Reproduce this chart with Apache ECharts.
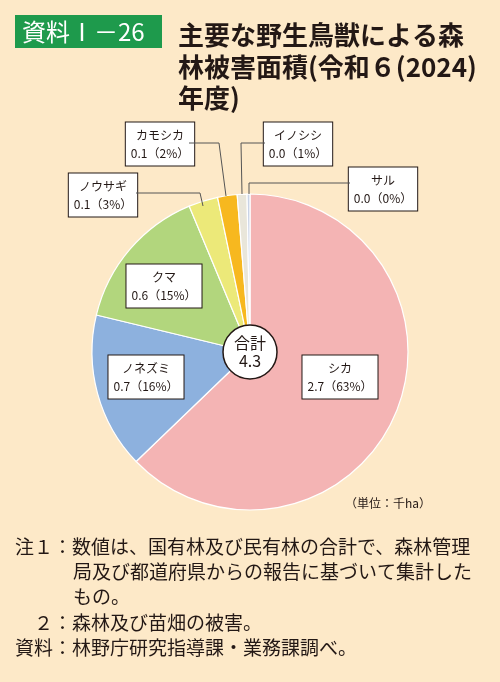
<!DOCTYPE html>
<html><head><meta charset="utf-8">
<script src="https://cdn.jsdelivr.net/npm/echarts@6/dist/echarts.min.js"></script>
<style>html,body{margin:0;padding:0;background:#fde9c8;}#c{width:500px;height:682px;}</style>
</head><body><div id="c"></div>
<script>
const categories = ['シカ','ノネズミ','クマ','ノウサギ','カモシカ','イノシシ','サル'];
const areas = ['2.7','0.7','0.6','0.1','0.1','0.0','0.0'];
const shares = [63,16,15,3,2,1,0.3];
const total = '4.3';
const colors = ['#f4b4b4','#8db1de','#b2d67d','#ece979','#f7b81f','#e9e6da','#c9d3e6'];
const labelPos = [[340,377],[146,377],[164,286],[103,195],[160,144],[298,144],[383,189]];
const F = '"Noto Sans CJK JP","Noto Sans",sans-serif';
const chart = echarts.init(document.getElementById('c'));
const line = pts => ({type:'polyline',shape:{points:pts},style:{stroke:'#555',lineWidth:1,fill:null},z:10});
const note = (x,y,t) => ({type:'text',x:x,y:y,style:{text:t,font:'19px '+F,fill:'#231815',verticalAlign:'middle'}});
chart.setOption({
  backgroundColor:'#fde9c8',
  animation:false,
  graphic:[
    {type:'rect',shape:{x:15,y:15,width:147,height:33},style:{fill:'#1e9a4c'}},
    {type:'text',x:22,y:32,style:{text:'資料Ⅰ－26',fill:'#fff',font:'24px '+F,verticalAlign:'middle'}},
    {type:'text',x:178,y:35,style:{text:'主要な野生鳥獣による森',fill:'#231815',font:'bold 26px '+F,verticalAlign:'middle'}},
    {type:'text',x:178,y:67,style:{text:'林被害面積(令和６(2024)',fill:'#231815',font:'bold 26px '+F,verticalAlign:'middle'}},
    {type:'text',x:178,y:98,style:{text:'年度)',fill:'#231815',font:'bold 26px '+F,verticalAlign:'middle'}},
    line([[189,143],[219,143],[226,196]]),
    line([[265,143],[241,143],[242,194]]),
    line([[136,193],[200,193],[203,206]]),
    line([[350,183],[249,183],[249,194]]),
    {type:'circle',shape:{cx:250,cy:352,r:27},style:{fill:'#fff',stroke:'#231815',lineWidth:1.5},z:20},
    {type:'text',x:250,y:352,z:21,style:{text:'合計\n'+total,align:'center',verticalAlign:'middle',font:'16px '+F,lineHeight:18,fill:'#231815'}},
    {type:'text',x:345,y:503,style:{text:'（単位：千ha）',font:'12px '+F,fill:'#231815',verticalAlign:'middle'}},
    note(15,547,'注１：数値は、国有林及び民有林の合計で、森林管理'),
    note(73,572,'局及び都道府県からの報告に基づいて集計した'),
    note(73,597,'もの。'),
    note(15,623,'　２：森林及び苗畑の被害。'),
    note(15,648,'資料：林野庁研究指導課・業務課調べ。')
  ],
  series:[{
    type:'pie',center:[250,352],radius:[0,158],startAngle:90,clockwise:true,
    itemStyle:{borderColor:'#fff',borderWidth:1.2},
    data:categories.map((c,i)=>({name:c,value:shares[i],itemStyle:{color:colors[i]}})),
    label:{show:true,position:'inside',
      formatter:p=>categories[p.dataIndex]+'\n'+areas[p.dataIndex]+'（'+Math.round(shares[p.dataIndex])+'%）',
      backgroundColor:'#fff',borderColor:'#231815',borderWidth:1,padding:[4,5,3,5],
      color:'#231815',fontSize:12,lineHeight:18,fontFamily:F,align:'center'},
    labelLine:{show:false},
    labelLayout:p=>({x:labelPos[p.dataIndex][0],y:labelPos[p.dataIndex][1],align:'center',verticalAlign:'middle',hideOverlap:false})
  }]
});
</script></body></html>
